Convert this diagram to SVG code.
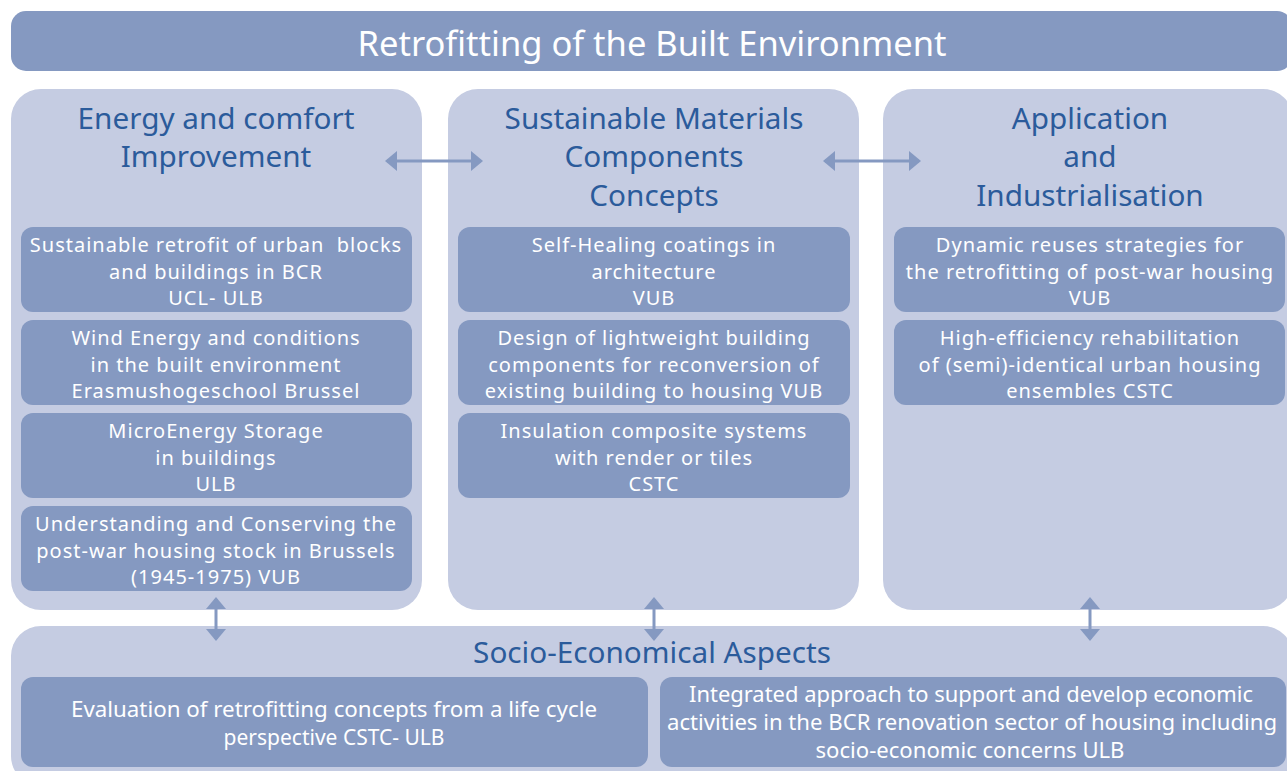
<svg xmlns="http://www.w3.org/2000/svg" width="1287" height="771" viewBox="0 0 1287 771">
<defs>
<style>
.hdr{fill:#8599c1}
.panel{fill:#c5cce2}
.box{fill:#8599c1}
.t{font-family:"Noto Sans","Liberation Sans",sans-serif;fill:#ffffff;text-anchor:middle;font-size:20px;letter-spacing:1px}
.ttl{font-family:"Noto Sans","Liberation Sans",sans-serif;fill:#2b5b9b;text-anchor:middle;font-size:29.7px}
.h{font-family:"Noto Sans","Liberation Sans",sans-serif;fill:#ffffff;text-anchor:middle;font-size:34.5px}
.c{font-family:"Noto Sans","Liberation Sans",sans-serif;fill:#ffffff;text-anchor:middle;font-size:21px}
.arr{stroke:#8599c1;stroke-width:3;fill:none;marker-start:url(#ah);marker-end:url(#ah)}
</style>
<marker id="ah" viewBox="0 0 12 20" refX="10" refY="10" markerWidth="12" markerHeight="20" markerUnits="userSpaceOnUse" orient="auto-start-reverse">
<path d="M0,0 L12,10 L0,20 Z" fill="#8599c1"/>
</marker>
</defs>
<rect width="1287" height="771" fill="#ffffff"/>

<g id="header">
<rect class="hdr" x="11" y="11" width="1281" height="60" rx="15"/>
<text class="h" x="652" y="56">Retrofitting of the Built Environment</text>
</g>

<g id="energy">
<rect class="panel" x="11" y="89" width="411" height="521" rx="30"/>
<text class="ttl" x="216" y="129">Energy and comfort</text>
<text class="ttl" x="216" y="167">Improvement</text>
</g>
<g id="energy-1">
<rect class="box" x="21" y="227" width="391" height="85" rx="12"/>
<text class="t" x="216" y="252">Sustainable retrofit of urban &#160;blocks</text>
<text class="t" x="216" y="279">and buildings in BCR</text>
<text class="t" x="216" y="305">UCL- ULB</text>
</g>
<g id="energy-2">
<rect class="box" x="21" y="320" width="391" height="85" rx="12"/>
<text class="t" x="216" y="345">Wind Energy and conditions</text>
<text class="t" x="216" y="372">in the built environment</text>
<text class="t" x="216" y="398">Erasmushogeschool Brussel</text>
</g>
<g id="energy-3">
<rect class="box" x="21" y="413" width="391" height="85" rx="12"/>
<text class="t" x="216" y="438">MicroEnergy Storage</text>
<text class="t" x="216" y="465">in buildings</text>
<text class="t" x="216" y="491">ULB</text>
</g>
<g id="energy-4">
<rect class="box" x="21" y="506" width="391" height="85" rx="12"/>
<text class="t" x="216" y="531">Understanding and Conserving the</text>
<text class="t" x="216" y="558">post-war housing stock in Brussels</text>
<text class="t" x="216" y="584">(1945-1975) VUB</text>
</g>

<g id="materials">
<rect class="panel" x="448" y="89" width="411" height="521" rx="30"/>
<text class="ttl" x="654" y="129">Sustainable Materials</text>
<text class="ttl" x="654" y="167">Components</text>
<text class="ttl" x="654" y="206">Concepts</text>
</g>
<g id="materials-1">
<rect class="box" x="458" y="227" width="392" height="85" rx="12"/>
<text class="t" x="654" y="252">Self-Healing coatings in</text>
<text class="t" x="654" y="279">architecture</text>
<text class="t" x="654" y="305">VUB</text>
</g>
<g id="materials-2">
<rect class="box" x="458" y="320" width="392" height="85" rx="12"/>
<text class="t" x="654" y="345">Design of lightweight building</text>
<text class="t" x="654" y="372">components for reconversion of</text>
<text class="t" x="654" y="398">existing building to housing VUB</text>
</g>
<g id="materials-3">
<rect class="box" x="458" y="413" width="392" height="85" rx="12"/>
<text class="t" x="654" y="438">Insulation composite systems</text>
<text class="t" x="654" y="465">with render or tiles</text>
<text class="t" x="654" y="491">CSTC</text>
</g>

<g id="application">
<rect class="panel" x="883" y="89" width="410" height="521" rx="30"/>
<text class="ttl" x="1090" y="129">Application</text>
<text class="ttl" x="1090" y="167">and</text>
<text class="ttl" x="1090" y="206">Industrialisation</text>
</g>
<g id="application-1">
<rect class="box" x="894" y="227" width="391" height="85" rx="12"/>
<text class="t" x="1090" y="252">Dynamic reuses strategies for</text>
<text class="t" x="1090" y="279">the retrofitting of post-war housing</text>
<text class="t" x="1090" y="305">VUB</text>
</g>
<g id="application-2">
<rect class="box" x="894" y="320" width="391" height="85" rx="12"/>
<text class="t" x="1090" y="345">High-efficiency rehabilitation</text>
<text class="t" x="1090" y="372">of (semi)-identical urban housing</text>
<text class="t" x="1090" y="398">ensembles CSTC</text>
</g>

<g id="socio">
<rect class="panel" x="11" y="626" width="1282" height="160" rx="30"/>
<text class="ttl" x="652" y="663">Socio-Economical Aspects</text>
</g>
<g id="socio-1">
<rect class="box" x="21" y="677" width="627" height="90" rx="12"/>
<text class="c" x="334" y="717" textLength="526" lengthAdjust="spacingAndGlyphs">Evaluation of retrofitting concepts from a life cycle</text>
<text class="c" x="334" y="745" textLength="221" lengthAdjust="spacingAndGlyphs">perspective CSTC- ULB</text>
</g>
<g id="socio-2">
<rect class="box" x="660" y="677" width="626" height="90" rx="12"/>
<text class="c" x="971" y="702" textLength="564" lengthAdjust="spacingAndGlyphs">Integrated approach to support and develop economic</text>
<text class="c" x="972" y="730" textLength="610" lengthAdjust="spacingAndGlyphs">activities in the BCR renovation sector of housing including</text>
<text class="c" x="970" y="758" textLength="309" lengthAdjust="spacingAndGlyphs">socio-economic concerns ULB</text>
</g>

<g id="connectors">
<line class="arr" x1="387" y1="161" x2="481" y2="161"/>
<line class="arr" x1="825" y1="161" x2="919" y2="161"/>
<line class="arr" x1="216" y1="599" x2="216" y2="639"/>
<line class="arr" x1="654" y1="599" x2="654" y2="639"/>
<line class="arr" x1="1090" y1="599" x2="1090" y2="639"/>
</g>
</svg>
